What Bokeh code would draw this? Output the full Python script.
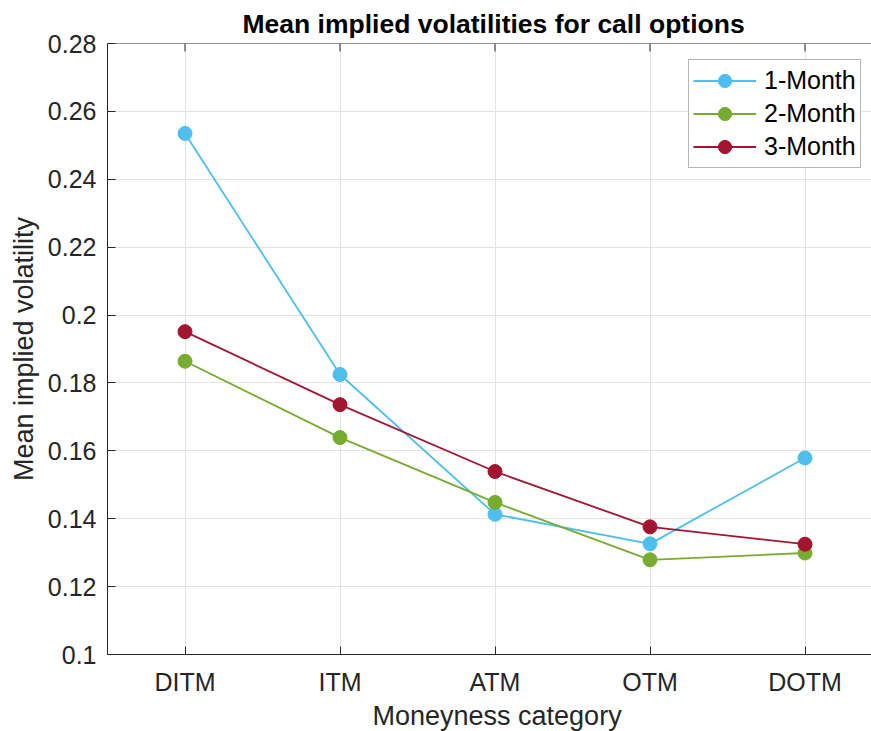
from bokeh.plotting import figure
from bokeh.models import Range1d, FixedTicker, Legend, LegendItem, Title, Span
from bokeh.embed import file_html
from bokeh.resources import INLINE

categories = ["DITM", "ITM", "ATM", "OTM", "DOTM"]
positions = [1, 2, 3, 4, 5]
m1 = [0.2535, 0.1825, 0.1413, 0.1326, 0.1579]
m2 = [0.1864, 0.1639, 0.1448, 0.1279, 0.1299]
m3 = [0.1951, 0.1736, 0.1539, 0.1376, 0.1325]
series_names = ["1-Month", "2-Month", "3-Month"]
colors = ["#4DBEEE", "#77AC30", "#A2142F"]
y_ticks = [0.1, 0.12, 0.14, 0.16, 0.18, 0.2, 0.22, 0.24, 0.26, 0.28]
y_tick_labels = ["0.1", "0.12", "0.14", "0.16", "0.18", "0.2", "0.22", "0.24", "0.26", "0.28"]

FONT = "Liberation Sans"
AX = "#262626"

W, H = 871, 731
BL, BR, BT, BB = 107, 0, 43, 77
y0, y1 = 0.1, 0.28

p = figure(width=W, height=H, output_backend="svg", toolbar_location=None,
           x_range=Range1d(0.5, 0.5 + (W - BL - BR) / 155.0), y_range=Range1d(y0, y1),
           min_border_left=BL, min_border_right=BR, min_border_top=BT, min_border_bottom=BB)
p.outline_line_color = None
p.background_fill_color = "white"
p.border_fill_color = "white"

xt = FixedTicker(ticks=positions)
yt = FixedTicker(ticks=y_ticks)

xa = p.xaxis[0]
xa.ticker = xt
xa.major_label_overrides = {pos: c for pos, c in zip(positions, categories)}
ya = p.yaxis[0]
ya.ticker = yt
ya.major_label_overrides = {t: l for t, l in zip(y_ticks, y_tick_labels)}
ya.axis_label = "Mean implied volatility"
ya.axis_label_text_font = FONT
ya.axis_label_text_font_size = "27px"
ya.axis_label_text_font_style = "normal"
ya.axis_label_text_color = AX
ya.axis_label_standoff = 6

for ax in (xa, ya):
    ax.axis_line_color = AX
    ax.major_tick_line_color = AX
    ax.major_tick_in = 8
    ax.major_tick_out = 0
    ax.minor_tick_line_color = None
    ax.major_label_text_font = FONT
    ax.major_label_text_font_size = "25px"
    ax.major_label_text_color = AX
xa.major_label_standoff = 13
ya.major_label_standoff = 11

# top border with inward ticks (the reference has a box on top)
p.add_layout(Span(location=y1, dimension="width", line_color=AX, line_width=1))
frame_h = H - BT - BB
tick_len = (y1 - y0) * 8.0 / frame_h
p.segment(x0=positions, y0=[y1] * len(positions), x1=positions,
          y1=[y1 - tick_len] * len(positions), line_color=AX, line_width=1)

p.xgrid.ticker = xt
p.ygrid.ticker = yt
p.xgrid.grid_line_color = "#e3e3e3"
p.ygrid.grid_line_color = "#e3e3e3"

p.title.text = "Mean implied volatilities for call options"
p.title.text_font = FONT
p.title.text_font_size = "26.5px"
p.title.text_font_style = "bold"
p.title.text_color = "black"
p.title.align = "left"
p.title.offset = 135
p.title.standoff = 9

xlabel = Title(text="Moneyness category", text_font=FONT, text_font_size="27px",
               text_font_style="normal", text_color=AX, align="left", offset=265, standoff=1)
p.add_layout(xlabel, "below")

items = []
for name, vals, col in zip(series_names, [m1, m2, m3], colors):
    lr = p.line(positions, vals, line_color=col, line_width=1.8)
    sr = p.scatter(positions, vals, size=14, fill_color=col, line_color=col)
    items.append(LegendItem(label=name, renderers=[lr, sr]))

legend = Legend(items=items, location=(581, 486), margin=0, padding=4, spacing=0,
                glyph_width=63, glyph_height=33, label_height=33, label_standoff=8,
                label_text_font=FONT, label_text_font_size="25px", label_text_color="black",
                border_line_color="#6e6e6e", border_line_width=1,
                background_fill_color="white", background_fill_alpha=1)
p.add_layout(legend, "center")

open("out.html", "w").write(file_html(p, INLINE))
